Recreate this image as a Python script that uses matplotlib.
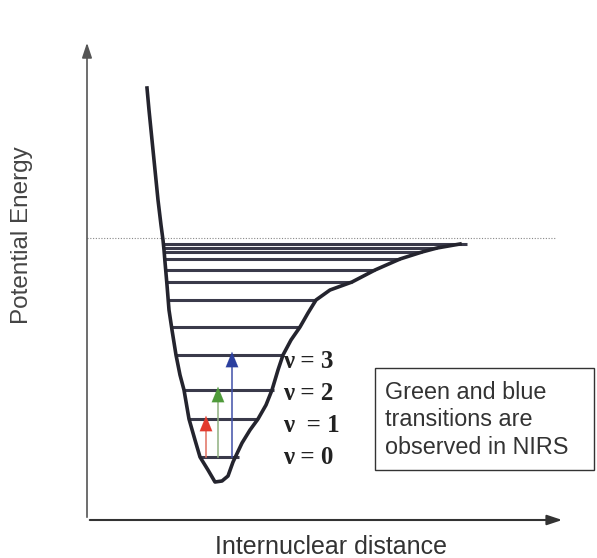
import matplotlib
matplotlib.use("Agg")
import matplotlib.pyplot as plt
from matplotlib.patches import Rectangle

# potential curve (internuclear distance r, energy E), arbitrary units
curve_r = [6.0, 6.2, 6.5, 6.8, 7.1, 7.4, 7.6, 7.7, 7.8, 8.0, 8.2, 8.5, 8.9, 9.3, 9.7,
           10.2, 10.8, 11.3, 12.1, 12.8, 13.5, 14.1, 14.6, 15.5, 16.3, 17.1, 17.9,
           18.5, 19.1, 19.6, 20.4, 21.3, 22.1, 22.9, 24.3, 26.5, 28.8, 31.3, 33.5,
           35.0, 37.3]
curve_E = [43.2, 41.0, 38.0, 35.0, 32.0, 29.5, 28.0, 27.0, 25.8, 23.5, 21.0, 19.0,
           16.5, 14.5, 13.0, 10.1, 8.0, 6.3, 5.0, 3.8, 3.9, 4.4, 5.8, 7.7, 9.0, 10.1,
           11.5, 13.0, 15.0, 16.5, 18.0, 19.3, 20.7, 22.0, 23.0, 23.8, 25.0, 26.1,
           26.8, 27.2, 27.6]

# vibrational levels: energy, left and right ends
level_E = [6.3, 10.1, 13.0, 16.5, 19.3, 22.0, 23.8, 25.0, 26.1, 26.8, 27.2, 27.6]
level_left = [11.3, 10.2, 9.7, 8.9, 8.4, 8.1, 8.0, 7.9, 7.8, 7.8, 7.7, 7.7]
level_right = [15.2, 17.1, 18.7, 19.6, 21.3, 22.9, 26.5, 28.8, 31.3, 33.5, 35.0, 38.0]

# transitions from v=0
trans_r = [11.9, 13.1, 14.5]
trans_to = [10.1, 13.0, 16.5]
trans_col = ["#e23a2e", "#4e9a3a", "#2b3f9e"]
trans_line = ["#e07060", "#90b080", "#4050a8"]

v_labels = ["\u03bd = 0", "\u03bd  = 1", "\u03bd = 2", "\u03bd = 3"]
dissoc_E = 28.2

fig = plt.figure(figsize=(5.97, 5.58), dpi=100)
ax = fig.add_axes([87/597, 38/558, 510/597, 520/558])
ax.set_xlim(0, 51)
ax.set_ylim(0, 52)
ax.axis("off")

# axes with arrows
ax.annotate("", xy=(0, 48.0), xytext=(0, 0),
            arrowprops=dict(arrowstyle="-|>,head_length=0.9,head_width=0.3", color="#555555", lw=1.2))
ax.annotate("", xy=(47.8, 0), xytext=(0, 0),
            arrowprops=dict(arrowstyle="-|>,head_length=0.9,head_width=0.3", color="#333333", lw=1.5))

# dissociation level
ax.plot([0, 46.8], [dissoc_E, dissoc_E], color="#888888", lw=0.8, ls=(0, (1, 1.5)))

# levels
for e, l, r in zip(level_E, level_left, level_right):
    ax.plot([l, r], [e, e], color="#3a3a4a", lw=2.2, solid_capstyle="butt")

# curve
ax.plot(curve_r, curve_E, color="#24242e", lw=2.6, solid_joinstyle="round")

# transitions
for x, top, c, lc in zip(trans_r, trans_to, trans_col, trans_line):
    ax.plot([x, x], [level_E[0], top - 1.0], color=lc, lw=1.1)
    ax.annotate("", xy=(x, top + 0.6), xytext=(x, top - 1.4),
                arrowprops=dict(arrowstyle="-|>,head_length=1.1,head_width=0.45",
                                color=c, lw=0.1))

# level labels
for i, s in enumerate(v_labels):
    ax.text(19.6, level_E[i] + [0, -0.6, -0.3, -0.7][i], s, family="Liberation Serif",
            fontweight="bold", fontsize=18, color="#222222", ha="left", va="center")

# info box
ax.add_patch(Rectangle((28.8, 5.0), 21.9, 10.2, fill=False, ec="#333333", lw=1.0))
ax.text(29.8, 10.0, "Green and blue\ntransitions are\nobserved in NIRS",
        family="Liberation Sans", fontsize=16.8, color="#333333", ha="left", va="center",
        linespacing=1.25)

fig.text(22/597, 1 - 235/558, "Potential Energy", rotation=90, family="Liberation Sans",
         fontsize=17.5, color="#444444", ha="center", va="center")
fig.text(331/597, 1 - 547/558, "Internuclear distance", family="Liberation Sans",
         fontsize=18, color="#333333", ha="center", va="center")

fig.savefig("out.png", dpi=100)
